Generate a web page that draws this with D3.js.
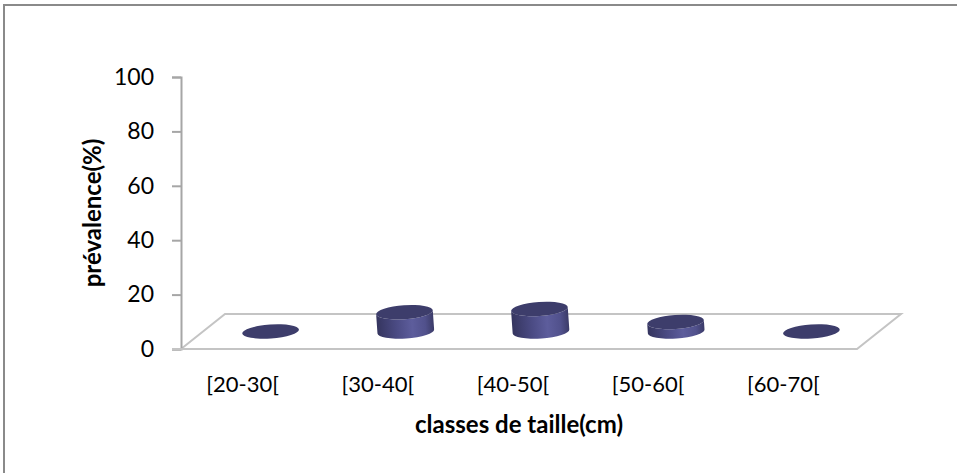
<!DOCTYPE html>
<html>
<head>
<meta charset="utf-8">
<script src="https://cdn.jsdelivr.net/npm/d3@7"></script>
<style>
  html, body { margin: 0; padding: 0; background: #ffffff; }
  svg { display: block; }
</style>
</head>
<body>
<svg id="chart" width="957" height="473"></svg>
<script>
// Prévalence par classe de taille
const categories = ["[20-30[", "[30-40[", "[40-50[", "[50-60[", "[60-70["];
const prevalence = [0, 7.1, 8.3, 3.5, 0];
const yTicks = [0, 20, 40, 60, 80, 100];
const yTitle = "prévalence(%)";
const xTitle = "classes de taille(cm)";

const svg = d3.select("#chart");
const W = 957, H = 473;
const font = "Lato, 'Open Sans', sans-serif";

// outer frame (top and left edges)
svg.append("path")
  .attr("d", `M4,${H} L4,5 L${W},5`)
  .attr("fill", "none").attr("stroke", "#8a8a8a").attr("stroke-width", 2);

// plot geometry: front edge of the floor and depth offset
const front = { left: 181, right: 857 };
const depth = { dx: 44, dy: -35 };

const y = d3.scaleLinear().domain([0, 100]).range([349, 77]);
const x = d3.scaleBand().domain(categories).range([front.left, front.right]);

// gradient for cylinder sides
const defs = svg.append("defs");
const grad = defs.append("linearGradient").attr("id", "cylSide")
  .attr("x1", "0%").attr("x2", "100%").attr("y1", "0%").attr("y2", "0%");
[["0%", "#35355f"], ["35%", "#4b4b84"], ["62%", "#5d5d9c"], ["85%", "#51518c"], ["100%", "#3b3b68"]]
  .forEach(([o, c]) => grad.append("stop").attr("offset", o).attr("stop-color", c));

// floor outline
const y0 = y(0);
const floorColor = "#c4c4c4";
const floor = svg.append("g").attr("fill", "none").attr("stroke", floorColor).attr("stroke-width", 2);
floor.append("path").attr("d",
  `M${front.left},${y0} L${front.left + depth.dx},${y0 + depth.dy} L${front.right + depth.dx},${y0 + depth.dy} L${front.right},${y0} Z`);

// y axis (left, at the front)
const yAxis = svg.append("g").attr("transform", `translate(${front.left},0)`)
  .call(d3.axisLeft(y).tickValues(yTicks).tickSize(9).tickPadding(18).tickFormat(d3.format("d")));
yAxis.select(".domain").attr("stroke", "#a6a6a6").attr("stroke-width", 2);
yAxis.selectAll(".tick line").attr("stroke", "#a6a6a6").attr("stroke-width", 2);
yAxis.selectAll(".tick text")
  .attr("font-family", font).attr("font-size", 23).attr("fill", "#000");

// front floor edge extended to the 0 tick
svg.append("line")
  .attr("x1", front.left - 9).attr("x2", front.right)
  .attr("y1", y0).attr("y2", y0)
  .attr("stroke", floorColor).attr("stroke-width", 2);

// cylinders, placed at mid-depth of the floor
const bw = x.bandwidth() * 0.42;
const rx = bw / 2, ry = 7;
const tilt = -4;
const bars = svg.append("g").selectAll("g").data(categories).join("g")
  .attr("transform", d => `translate(${x(d) + x.bandwidth() / 2 + depth.dx / 2},${y0 + depth.dy / 2})`);

bars.each(function (d, i) {
  const g = d3.select(this);
  const h = y(0) - y(prevalence[i]);
  const inner = g.append("g").attr("transform", `rotate(${tilt})`);
  if (h > 0.5) {
    inner.append("path")
      .attr("d", `M${-rx},0 L${-rx},${-h} A${rx},${ry} 0 0 0 ${rx},${-h} L${rx},0 A${rx},${ry} 0 0 1 ${-rx},0 Z`)
      .attr("fill", "url(#cylSide)");
  }
  inner.append("ellipse")
    .attr("cx", 0).attr("cy", -h).attr("rx", rx).attr("ry", ry)
    .attr("fill", "#3d3d6b");
});

// category labels
svg.append("g").selectAll("text").data(categories).join("text")
  .attr("x", d => x(d) + x.bandwidth() / 2 - 6)
  .attr("y", 392)
  .attr("text-anchor", "middle")
  .attr("font-family", font).attr("font-size", 22).attr("fill", "#000")
  .text(d => d);

// axis titles
svg.append("text")
  .attr("transform", `translate(101,${(y(0) + y(100)) / 2}) rotate(-90)`)
  .attr("text-anchor", "middle")
  .attr("font-family", font).attr("font-size", 24).attr("font-weight", "bold").attr("fill", "#000")
  .text(yTitle);

svg.append("text")
  .attr("x", (front.left + front.right) / 2).attr("y", 433)
  .attr("text-anchor", "middle")
  .attr("font-family", font).attr("font-size", 24).attr("font-weight", "bold").attr("fill", "#000")
  .text(xTitle);
</script>
</body>
</html>
